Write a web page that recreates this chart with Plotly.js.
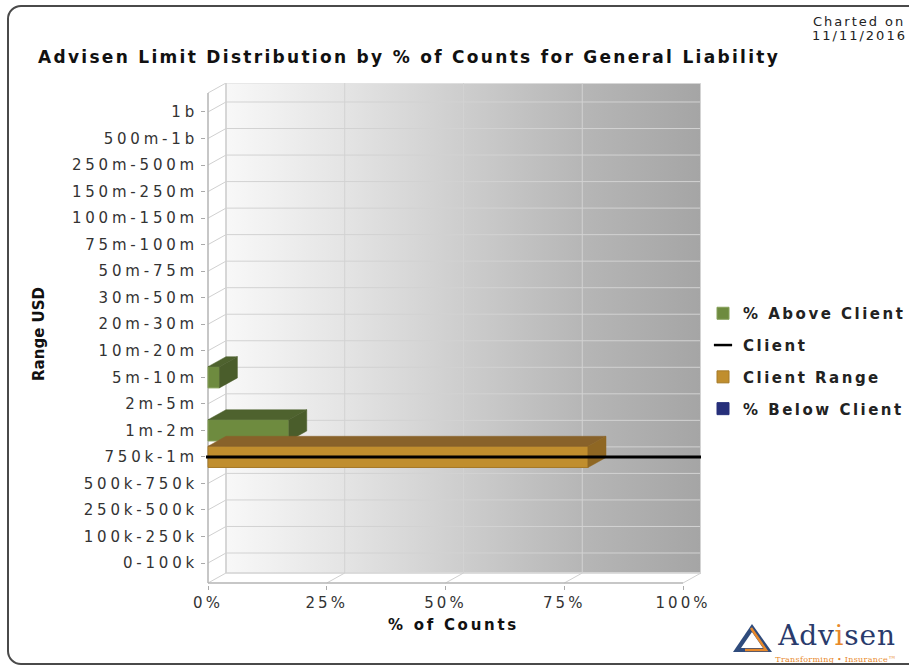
<!DOCTYPE html>
<html><head><meta charset="utf-8">
<script src="https://cdn.plot.ly/plotly-3.0.1.min.js"></script>
<style>
html,body{margin:0;padding:0;overflow:hidden;background:#fff}
#chart{width:909px;height:667px}
#frame{position:absolute;left:7px;top:5px;width:950px;height:656px;border:2px solid #4a4a4a;border-radius:14px;pointer-events:none}
#chart .ytick text{letter-spacing:3.8px}
#chart .xtick text{letter-spacing:3px}
#chart .legendtext{letter-spacing:2.5px}
#chart .legend .scrollbox{clip-path:none !important}
#chart .gtitle{letter-spacing:2.3px}
#chart .xtitle{letter-spacing:2.7px}
#chart g.annotation[data-index="0"] text,#chart g.annotation[data-index="1"] text{letter-spacing:2px}
#chart g.annotation[data-index="2"] text{letter-spacing:0.8px}
#chart g.annotation[data-index="3"] text{letter-spacing:0.3px}
</style></head><body>
<div id="chart"></div><div id="frame"></div>
<script>
// ---- data ----
const categories = ['0-100k','100k-250k','250k-500k','500k-750k','750k-1m','1m-2m','2m-5m','5m-10m','10m-20m','20m-30m','30m-50m','50m-75m','75m-100m','100m-150m','150m-250m','250m-500m','500m-1b','1b'];
const pctAboveClient = [0,0,0,0,0,17,0,2.4,0,0,0,0,0,0,0,0,0,0];
const clientRange    = [0,0,0,0,80,0,0,0,0,0,0,0,0,0,0,0,0,0];
const pctBelowClient = [0,0,0,0,0,0,0,0,0,0,0,0,0,0,0,0,0,0];
const clientCategory = '750k-1m';
const xTickVals = [0,25,50,75,100];
const xTickText = ['0%','25%','50%','75%','100%'];

// ---- geometry (pixels -> data units) ----
const W=909,H=667;
const PXU=4.75;            // px per percent
const PXC=26.53;           // px per category
const DX=18/PXU;           // depth offset in x (data units)
const DY=10/PXC;           // depth offset in y (data units)
const L=206,R=701,T=83,B=585;
const XLO=-2/PXU, XMAX=XLO+(R-L)/PXU;
const Y0=-20/PXC;                       // front floor edge
const YLO=Y0-2/PXC, YHI=YLO+(B-T)/PXC;  // axis range
const YTOP=YHI;                          // back wall top
const idx = categories.map((c,i)=>i);
const px2x = px => (px-L)/(R-L);
const px2y = py => (B-py)/(B-T);

const skip = {hoverinfo:'skip', showlegend:false, mode:'lines'};

// back wall
const wall = Object.assign({}, skip, {
  x:[DX,XMAX,XMAX,DX,DX], y:[Y0+DY,Y0+DY,YTOP,YTOP,Y0+DY],
  fill:'toself',
  fillgradient:{type:'horizontal', start:DX, stop:XMAX,
    colorscale:[[0,'#f8f8f8'],[0.25,'#e4e4e4'],[0.5,'#cdcdcd'],[0.75,'#b6b6b6'],[1,'#a5a5a5']]},
  line:{color:'#e4e4e4', width:1.5}
});
// wall grid
const gx=[],gy=[];
xTickVals.forEach(v=>{ gx.push(v+DX,v+DX,null); gy.push(Y0+DY,YTOP,null); });
idx.forEach(i=>{ gx.push(DX,XMAX,null); gy.push(i+DY,i+DY,null); });
const grid = Object.assign({}, skip, {x:gx,y:gy,line:{color:'#d2d2d2',width:1}});
// side wall & floor lines
const sx=[],sy=[];
idx.forEach(i=>{ sx.push(0,DX,null); sy.push(i,i+DY,null); });
sx.push(0,DX,null); sy.push(YTOP-DY,YTOP,null);
xTickVals.forEach(v=>{ sx.push(v,v+DX,null); sy.push(Y0,Y0+DY,null); });
sx.push(DX,DX,null); sy.push(Y0+DY,YTOP,null);
sx.push(DX,XMAX,null); sy.push(Y0+DY,Y0+DY,null);
const side = Object.assign({}, skip, {x:sx,y:sy,line:{color:'#d0d0d0',width:1}});
// front edges
const front = Object.assign({}, skip, {
  x:[0,0,null,0,100], y:[YTOP-DY,Y0,null,Y0,Y0], line:{color:'#b4b4b4',width:1.5}
});

// ---- bars (overlay subplot) ----
const HW=0.4;
function bar(name, vals, color, edge){
  return {type:'bar', orientation:'h', name, x:vals.map(v=>v||null), y:idx, width:0.8, yaxis:'y2',
    marker:{color, line:{color:edge,width:1}}, legendgroup:name, hoverinfo:'skip'};
}
function faces(vals, topColor, sideColor){
  const tx=[],ty=[],qx=[],qy=[];
  vals.forEach((v,i)=>{
    if(!v) return;
    tx.push(0,v,v+DX,DX,0,null); ty.push(i+HW,i+HW,i+HW+DY,i+HW+DY,i+HW,null);
    qx.push(v,v+DX,v+DX,v,v,null); qy.push(i-HW,i-HW+DY,i+HW+DY,i+HW,i-HW,null);
  });
  return [
    Object.assign({}, skip, {x:tx,y:ty,yaxis:'y2',fill:'toself',fillcolor:topColor,line:{color:topColor,width:0.5}}),
    Object.assign({}, skip, {x:qx,y:qy,yaxis:'y2',fill:'toself',fillcolor:sideColor,line:{color:sideColor,width:0.5}})
  ];
}
const ci = categories.indexOf(clientCategory);
const clientLine = {type:'scatter', mode:'lines', name:'Client', x:[XLO,XMAX], y:[ci,ci], yaxis:'y2',
  line:{color:'#000',width:3}, legendgroup:'Client', showlegend:false, hoverinfo:'skip'};
const clientKey = {type:'scatter', mode:'markers', name:'Client', x:[null], y:[null], yaxis:'y2',
  marker:{symbol:'line-ew-open', size:13, color:'#000', line:{color:'#000', width:2.5}}, legendgroup:'Client', hoverinfo:'skip'};

const traces = [wall, grid, side, front,
  ...faces(pctAboveClient, '#4e622e', '#4a5d2b'),
  ...faces(clientRange, '#88622a', '#8f6723'),
  clientLine,
  bar('% Above Client', pctAboveClient, '#6e8b3f', '#86a05a'),
  clientKey,
  bar('Client Range', clientRange, '#c08e2e', '#a67a28'),
  bar('% Below Client', pctBelowClient, '#262f7a', '#262f7a')
];

const tickFont = {family:'DejaVu Sans', size:15, color:'#333'};
const bold = (s)=>({family:'DejaVu Sans', size:s, weight:'bold', color:'#111'});
const layout = {
  width:W, height:H, margin:{l:L, r:W-R, t:T, b:H-B}, paper_bgcolor:'#fff', plot_bgcolor:'rgba(0,0,0,0)',
  hovermode:false, barmode:'overlay', showlegend:true,
  title:{text:'Advisen Limit Distribution by % of Counts for General Liability', xref:'container', x:38/W, xanchor:'left',
    yref:'container', y:1-57/H, yanchor:'middle', font:bold(17)},
  xaxis:{range:[XLO,XMAX], tickvals:xTickVals, ticktext:xTickText, tickfont:tickFont, ticks:'outside', ticklen:4,
    tickcolor:'#aaa', showgrid:false, zeroline:false, showline:false, fixedrange:true,
    title:{text:'% of Counts', font:bold(15), standoff:8}},
  yaxis:{range:[YLO,YHI], tickvals:idx, ticktext:categories, tickfont:tickFont, ticks:'outside', ticklen:4,
    tickcolor:'#aaa', showgrid:false, zeroline:false, showline:false, fixedrange:true,
    title:{text:'Range USD', font:bold(15), standoff:57}},
  yaxis2:{range:[YLO,YHI], overlaying:'y', visible:false, fixedrange:true},
  legend:{xref:'container', x:703/W, xanchor:'left', yref:'container', y:1-297/H, yanchor:'top',
    bgcolor:'rgba(0,0,0,0)', font:{family:'DejaVu Sans', size:15, weight:'bold', color:'#222'},
    traceorder:'grouped', tracegroupgap:9.3},
  annotations:[
    {xref:'paper', yref:'paper', x:px2x(859), y:px2y(21), text:'Charted on', showarrow:false,
      font:{family:'DejaVu Sans', size:13, color:'#222'}, xanchor:'center', yanchor:'middle'},
    {xref:'paper', yref:'paper', x:px2x(859), y:px2y(35), text:'11/11/2016', showarrow:false,
      font:{family:'DejaVu Sans', size:13, color:'#222'}, xanchor:'center', yanchor:'middle'},
    {xref:'paper', yref:'paper', x:px2x(836), y:px2y(635), text:'Adv<span style="color:#e8892b">i</span>sen', showarrow:false,
      font:{family:'DejaVu Serif', size:28, color:'#2a3b6c'}, xanchor:'center', yanchor:'middle'},
    {xref:'paper', yref:'paper', x:px2x(836), y:px2y(659), text:'Transforming • Insurance™', showarrow:false,
      font:{family:'DejaVu Serif', size:8, color:'#e8892b'}, xanchor:'center', yanchor:'middle'}
  ],
  shapes:[
    {type:'path', xref:'paper', yref:'paper', line:{width:0}, fillcolor:'#2f4b7c',
      path:'M'+px2x(733)+','+px2y(652)+' L'+px2x(752)+','+px2y(624)+' L'+px2x(772)+','+px2y(652)+' Z'},
    {type:'path', xref:'paper', yref:'paper', line:{width:0}, fillcolor:'#ffffff',
      path:'M'+px2x(741)+','+px2y(648)+' L'+px2x(752)+','+px2y(632)+' L'+px2x(763)+','+px2y(648)+' Z'},
    {type:'path', xref:'paper', yref:'paper', line:{color:'#e8892b',width:2.5},
      path:'M'+px2x(751)+','+px2y(628)+' L'+px2x(766)+','+px2y(650)+' L'+px2x(745)+','+px2y(650)}
  ]
};
Plotly.newPlot('chart', traces, layout, {displayModeBar:false, staticPlot:true});
</script>
</body></html>
